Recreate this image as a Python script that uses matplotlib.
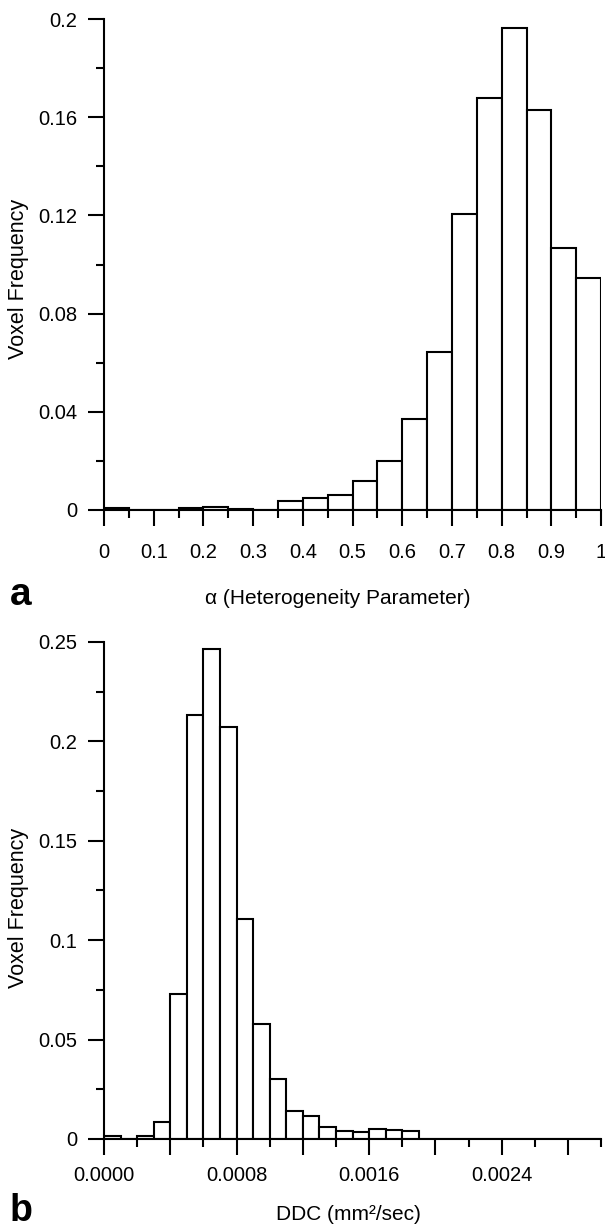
import matplotlib
matplotlib.use("Agg")
import matplotlib.pyplot as plt
from matplotlib.ticker import FixedLocator, FixedFormatter

plt.rcParams['font.family'] = ['Liberation Sans', 'DejaVu Sans']

# (a) alpha heterogeneity parameter, bins of width 0.05
alpha_left = [0.00, 0.05, 0.10, 0.15, 0.20, 0.25, 0.30, 0.35, 0.40, 0.45,
              0.50, 0.55, 0.60, 0.65, 0.70, 0.75, 0.80, 0.85, 0.90, 0.95]
alpha_freq = [0.0007, 0.0, 0.0, 0.0008, 0.0014, 0.0005, 0.0, 0.0038, 0.0048, 0.0060,
              0.0120, 0.0200, 0.0369, 0.0642, 0.1204, 0.1680, 0.1964, 0.1630, 0.1068, 0.0946]
alpha_width = 0.05
alpha_yticks = [0, 0.04, 0.08, 0.12, 0.16, 0.2]
alpha_ylabels = ['0', '0.04', '0.08', '0.12', '0.16', '0.2']
alpha_yminor = [0.02, 0.06, 0.10, 0.14, 0.18]
alpha_xticks = [0, 0.1, 0.2, 0.3, 0.4, 0.5, 0.6, 0.7, 0.8, 0.9, 1.0]
alpha_xlabels = ['0', '0.1', '0.2', '0.3', '0.4', '0.5', '0.6', '0.7', '0.8', '0.9', '1']
alpha_xminor = [0.05, 0.15, 0.25, 0.35, 0.45, 0.55, 0.65, 0.75, 0.85, 0.95]

# (b) DDC, bins of width 0.0001 mm^2/sec
ddc_left = [0.0000, 0.0001, 0.0002, 0.0003, 0.0004, 0.0005, 0.0006, 0.0007, 0.0008, 0.0009,
            0.0010, 0.0011, 0.0012, 0.0013, 0.0014, 0.0015, 0.0016, 0.0017, 0.0018, 0.0019,
            0.0020, 0.0021, 0.0022, 0.0023, 0.0024, 0.0025, 0.0026, 0.0027, 0.0028, 0.0029]
ddc_freq = [0.0015, 0.0, 0.0015, 0.0084, 0.0731, 0.2134, 0.2466, 0.2070, 0.1107, 0.0579,
            0.0301, 0.0140, 0.0115, 0.0059, 0.0042, 0.0033, 0.0050, 0.0045, 0.0038, 0.0,
            0.0, 0.0, 0.0, 0.0, 0.0, 0.0, 0.0, 0.0, 0.0, 0.0]
ddc_width = 0.0001
ddc_yticks = [0, 0.05, 0.1, 0.15, 0.2, 0.25]
ddc_ylabels = ['0', '0.05', '0.1', '0.15', '0.2', '0.25']
ddc_yminor = [0.025, 0.075, 0.125, 0.175, 0.225]
ddc_xticks = [0.0, 0.0004, 0.0008, 0.0012, 0.0016, 0.0020, 0.0024, 0.0028]
ddc_xlabels = ['0.0000', '', '0.0008', '', '0.0016', '', '0.0024', '']
ddc_xminor = [0.0002, 0.0006, 0.0010, 0.0014, 0.0018, 0.0022, 0.0026, 0.0030]


def style_axes(ax, xticks, xlabels, xminor, yticks, ylabels, yminor, xpad):
    for side in ('top', 'right'):
        ax.spines[side].set_visible(False)
    for side in ('left', 'bottom'):
        ax.spines[side].set_linewidth(1.5)
    ax.xaxis.set_major_locator(FixedLocator(xticks))
    ax.xaxis.set_major_formatter(FixedFormatter(xlabels))
    ax.xaxis.set_minor_locator(FixedLocator(xminor))
    ax.yaxis.set_major_locator(FixedLocator(yticks))
    ax.yaxis.set_major_formatter(FixedFormatter(ylabels))
    ax.yaxis.set_minor_locator(FixedLocator(yminor))
    ax.tick_params(which='major', direction='out', length=11.5, width=1.5, labelsize=14.5)
    ax.tick_params(which='minor', direction='out', length=6, width=1.5)
    ax.tick_params(axis='x', which='major', pad=xpad)
    ax.tick_params(axis='y', which='major', pad=8)


fig = plt.figure(figsize=(6.05, 12.28), dpi=100)

ax1 = fig.add_axes([0.172, 0.5847, 0.8215, 0.3998])
ax1.bar(alpha_left, alpha_freq, width=alpha_width, align='edge',
        color='white', edgecolor='black', linewidth=1.5)
ax1.set_xlim(0, 1)
ax1.set_ylim(0, 0.2)
style_axes(ax1, alpha_xticks, alpha_xlabels, alpha_xminor,
           alpha_yticks, alpha_ylabels, alpha_yminor, xpad=12)
ax1.set_ylabel('Voxel Frequency', fontsize=15.5, va='center')
ax1.yaxis.set_label_coords(-0.173, 0.47)

ax2 = fig.add_axes([0.172, 0.0725, 0.8215, 0.4047])
ax2.bar(ddc_left, ddc_freq, width=ddc_width, align='edge',
        color='white', edgecolor='black', linewidth=1.5)
ax2.set_xlim(0, 0.0030)
ax2.set_ylim(0, 0.25)
style_axes(ax2, ddc_xticks, ddc_xlabels, ddc_xminor,
           ddc_yticks, ddc_ylabels, ddc_yminor, xpad=8)
ax2.set_ylabel('Voxel Frequency', fontsize=15.5, va='center')
ax2.yaxis.set_label_coords(-0.173, 0.465)

# axis titles and panel letters
fig.text(338 / 605, 1 - 604 / 1228, '\u03b1 (Heterogeneity Parameter)',
         fontsize=15, ha='center', va='baseline')
fig.text(348 / 605, 1 - 1220 / 1228, 'DDC (mm\u00b2/sec)',
         fontsize=15, ha='center', va='baseline')
fig.text(10 / 605, 1 - 605 / 1228, 'a', fontsize=28, fontweight='bold',
         ha='left', va='baseline')
fig.text(10 / 605, 1 - 1221 / 1228, 'b', fontsize=27, fontweight='bold',
         ha='left', va='baseline')

fig.savefig('out.png', dpi=100, facecolor='white')
